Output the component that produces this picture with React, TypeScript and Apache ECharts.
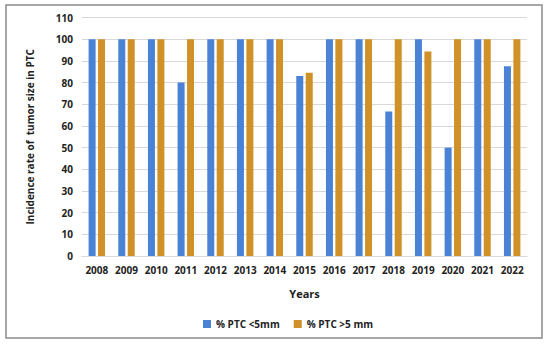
import React, { useEffect, useRef } from "react";
import * as echarts from "echarts";

const years = ["2008", "2009", "2010", "2011", "2012", "2013", "2014", "2015", "2016", "2017", "2018", "2019", "2020", "2021", "2022"];
const smallPTC = [100, 100, 100, 80, 100, 100, 100, 83, 100, 100, 66.7, 100, 50, 100, 87.5];
const largePTC = [100, 100, 100, 100, 100, 100, 100, 84.5, 100, 100, 100, 94.4, 100, 100, 100];
const yTicks = { min: 0, max: 110, interval: 10 };

export default function App() {
  const ref = useRef<HTMLDivElement>(null);
  useEffect(() => {
    if (!ref.current) return;
    const chart = echarts.init(ref.current, undefined, { renderer: "svg" });
    const font = "'Open Sans', sans-serif";
    chart.setOption({
      animation: false,
      backgroundColor: "#ffffff",
      graphic: [
        {
          type: "rect",
          shape: { x: 6, y: 5, width: 536, height: 333 },
          style: { fill: "none", stroke: "#8a8a8a", lineWidth: 1.5 },
          silent: true,
        },
      ],
      grid: { left: 82, right: 23, top: 17.6, bottom: 88, containLabel: false },
      legend: {
        left: 198,
        top: 314,
        itemWidth: 8,
        itemHeight: 8,
        itemGap: 14,
        icon: "rect",
        textStyle: { fontFamily: font, fontWeight: "bold", fontSize: 10, color: "#222" },
        data: ["% PTC <5mm", "% PTC >5 mm"],
      },
      xAxis: {
        type: "category",
        data: years,
        name: "Years",
        nameLocation: "middle",
        nameGap: 32,
        nameTextStyle: { fontFamily: font, fontWeight: "bold", fontSize: 11, color: "#222" },
        axisLine: { show: true, lineStyle: { color: "#d9d9d9" } },
        axisTick: { show: false },
        axisLabel: { interval: 0, fontFamily: font, fontWeight: "bold", fontSize: 10, color: "#222", margin: 9 },
      },
      yAxis: {
        type: "value",
        min: yTicks.min,
        max: yTicks.max,
        interval: yTicks.interval,
        name: "Incidence rate of  tumor size in PTC",
        nameLocation: "middle",
        nameGap: 47,
        nameTextStyle: { fontFamily: font, fontWeight: "bold", fontSize: 10, color: "#222" },
        axisLine: { show: false },
        axisTick: { show: false },
        axisLabel: { fontFamily: font, fontWeight: "bold", fontSize: 10, color: "#222", margin: 9 },
        splitLine: { lineStyle: { color: "#d9d9d9" } },
      },
      series: [
        {
          name: "% PTC <5mm",
          type: "bar",
          data: smallPTC,
          barWidth: 7,
          barGap: "35%",
          itemStyle: { color: "#4a82d6" },
        },
        {
          name: "% PTC >5 mm",
          type: "bar",
          data: largePTC,
          barWidth: 7,
          itemStyle: { color: "#cf9128" },
        },
      ],
    });
    return () => chart.dispose();
  }, []);
  return (
    <div
      ref={ref}
      style={{ position: "fixed", left: 0, top: 0, width: 550, height: 344 }}
    />
  );
}
